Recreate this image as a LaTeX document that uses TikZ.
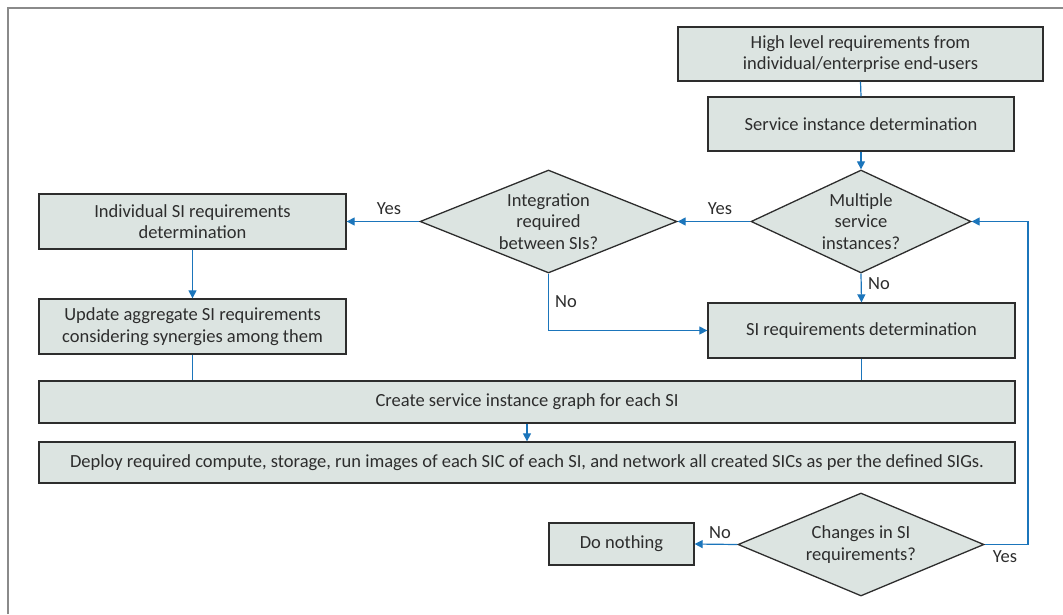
\documentclass[tikz,border=0pt]{standalone}
\usepackage{fontspec}
\setmainfont{Carlito}
\usetikzlibrary{shapes.geometric,arrows.meta}
\definecolor{boxfill}{RGB}{220,228,225}
\definecolor{boxedge}{RGB}{45,45,45}
\definecolor{flow}{RGB}{27,117,187}
\definecolor{txt}{RGB}{45,45,45}
\definecolor{frame}{RGB}{138,138,138}
\tikzset{
  base/.style={draw=boxedge, line width=1.3pt, fill=boxfill, text=txt,
    font=\fontsize{18.5}{21.5}\selectfont, align=center, inner sep=0pt},
  stepbox/.style={base, rectangle},
  decision/.style={base, diamond},
  link/.style={draw=flow, line width=1.2pt},
  flowarrow/.style={link, -{Triangle[length=8pt,width=8pt]}},
  answer/.style={text=txt, font=\fontsize{18.5}{21.5}\selectfont, inner sep=0pt}
}
\begin{document}
\begin{tikzpicture}[x=1pt, y=-1pt]
\useasboundingbox (0,0) rectangle (1063,614);
% outer frame: top and left edges only
\draw[frame, line width=2pt] (8,614) -- (8,7.5) -- (1063,7.5);

% process steps
\node[stepbox, minimum width=365pt, minimum height=54pt] (hlr) at (860.5,54)
  {High level requirements from\\individual/enterprise end-users};
\node[stepbox, minimum width=306pt, minimum height=54pt] (sid) at (861,124)
  {Service instance determination};
\node[decision, minimum width=220pt, minimum height=103pt, shape aspect=2.14] (multi) at (861,221.5)
  {Multiple\\service\\instances?};
\node[decision, minimum width=257pt, minimum height=103pt, shape aspect=2.5] (integ) at (548.5,221.5)
  {Integration\\required\\between SIs?};
\node[stepbox, minimum width=307pt, minimum height=55pt] (indiv) at (192.5,221.5)
  {Individual SI requirements\\determination};
\node[stepbox, minimum width=307pt, minimum height=55pt] (upd) at (192.5,326.5)
  {Update aggregate SI requirements\\considering synergies among them};
\node[stepbox, minimum width=307pt, minimum height=55pt] (sireq) at (861.5,330.5)
  {SI requirements determination};
\node[stepbox, minimum width=976pt, minimum height=42pt] (graph) at (527,402)
  {Create service instance graph for each SI};
\node[stepbox, minimum width=976pt, minimum height=41pt] (deploy) at (527,462.5)
  {Deploy required compute, storage, run images of each SIC of each SI, and network all created SICs as per the defined SIGs.};
\node[decision, minimum width=246pt, minimum height=103pt, shape aspect=2.4] (chg) at (861,544.5)
  {Changes in SI\\requirements?};
\node[stepbox, minimum width=145pt, minimum height=42pt] (none) at (621.5,544)
  {Do nothing};
\coordinate (loopbot) at (1028,544.5);
\coordinate (looptop) at (1028,221.5);
\coordinate (nobend) at (548.5,330.5);

% connectors
\draw[link] (hlr.south) -- (sid.north);
\draw[flowarrow] (sid.south) -- (multi.north);
\draw[flowarrow] (multi.west) -- (integ.east);
\draw[flowarrow] (integ.west) -- (indiv.east);
\draw[flowarrow] (multi.south) -- (sireq.north);
\draw[flowarrow] (integ.south) -- (nobend) -- (sireq.west);
\draw[flowarrow] (indiv.south) -- (upd.north);
\draw[link] (upd.south) -- (upd.south |- graph.north);
\draw[link] (sireq.south) -- (sireq.south |- graph.north);
\draw[flowarrow] (graph.south) -- (deploy.north);
\draw[flowarrow] (chg.west) -- (none.east);
\draw[flowarrow] (chg.east) -- (loopbot) -- (looptop) -- (multi.east);

% branch labels
\node[answer] (yes1) at (720,209) {Yes};
\node[answer] (yes2) at (389,209) {Yes};
\node[answer] (no1) at (879,284) {No};
\node[answer] (no2) at (566,302) {No};
\node[answer] (no3) at (720,533) {No};
\node[answer] (yes3) at (1005,557) {Yes};
\end{tikzpicture}
\end{document}
